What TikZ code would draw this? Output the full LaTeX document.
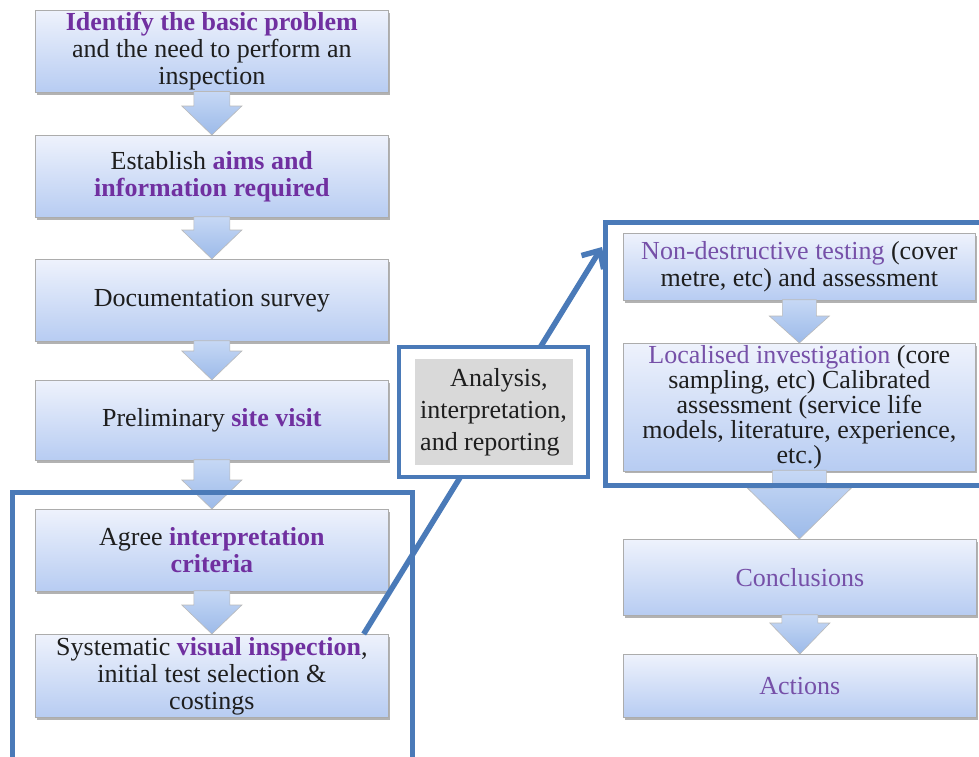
\documentclass[tikz,border=0pt]{standalone}
\usepackage{fontspec}
\setmainfont{Liberation Serif}
\usetikzlibrary{arrows.meta,calc,shadows}

\definecolor{frameblue}{HTML}{4A7AB8}
\definecolor{boldpurple}{HTML}{7030A0}
\definecolor{softpurple}{HTML}{7650A8}
\definecolor{boxtop}{HTML}{EEF2FC}
\definecolor{boxbot}{HTML}{B7CCF2}
\definecolor{arrtop}{HTML}{C6D8F5}
\definecolor{arrbot}{HTML}{9CBAE9}
\definecolor{inktext}{HTML}{1E1E1E}
\definecolor{panelgray}{HTML}{D9D9D9}

% emphasised words
\newcommand\hl[1]{\textbf{\color{boldpurple}#1}}
\newcommand\hs[1]{{\color{softpurple}#1}}

% block arrow from the bottom of one box to the top of the next
% #1 from, #2 to, #3 shaft half width, #4 head half width, #5 head length
\newcommand\blockarrow[5]{%
  \path[blockarr] let \p1=(#1.south), \p2=(#2.north) in
    (\x1-#3pt,\y1+1pt) -- (\x1+#3pt,\y1+1pt) -- (\x1+#3pt,\y2+#5pt)
    -- (\x1+#4pt,\y2+#5pt) -- (\x1,\y2) -- (\x1-#4pt,\y2+#5pt)
    -- (\x1-#3pt,\y2+#5pt) -- cycle;}

\tikzset{
  box/.style={draw=gray!65, line width=0.7pt, top color=boxtop, bottom color=boxbot,
    drop shadow={shadow xshift=2pt, shadow yshift=-2.5pt, fill=black, opacity=0.3},
    font=\fontsize{26}{27}\selectfont, text=inktext, align=center, inner sep=2pt,
    anchor=north west},
  blockarr/.style={draw=gray!55, line width=0.6pt, top color=arrtop, bottom color=arrbot},
  groupframe/.style={draw=frameblue, line width=5pt},
  conn/.style={draw=frameblue, line width=5.5pt, -{Straight Barb[length=14pt,width=26pt]}},
}

\begin{document}
\begin{tikzpicture}[x=1pt, y=-1pt]
\clip (0,0) rectangle (979,756);
\fill[white] (0,0) rectangle (979,756);

% left column
\node[box, minimum width=353pt, minimum height=81pt] (b1) at (35,10)
  {\hl{Identify the basic problem}\\ and the need to perform an\\ inspection};
\node[box, minimum width=353pt, minimum height=82pt] (b2) at (35,135)
  {Establish \hl{aims and}\\ \hl{information required}};
\node[box, minimum width=353pt, minimum height=82pt] (b3) at (35,259)
  {Documentation survey};
\node[box, minimum width=353pt, minimum height=80pt] (b4) at (35,380)
  {Preliminary \hl{site visit}};
\node[box, minimum width=353pt, minimum height=82pt] (b5) at (35,509)
  {Agree \hl{interpretation}\\ \hl{criteria}};
\node[box, minimum width=353pt, minimum height=83pt] (b6) at (35,634)
  {Systematic \hl{visual inspection},\\ initial test selection \&\\ costings};

% right column
\node[box, minimum width=352pt, minimum height=67pt] (r1) at (623,233)
  {\hs{Non-destructive testing} (cover\\ metre, etc) and assessment};
\node[box, minimum width=352pt, minimum height=125pt, font=\fontsize{26}{25}\selectfont] (r2) at (623,343)
  {\hs{Localised investigation} (core\\ sampling, etc) Calibrated\\ assessment (service life\\ models, literature, experience,\\ etc.)};
\node[box, minimum width=353pt, minimum height=76pt] (c1) at (623,539)
  {\hs{Conclusions}};
\node[box, minimum width=353pt, minimum height=63pt] (a1) at (623,654)
  {\hs{Actions}};

% flow arrows
\blockarrow{b1}{b2}{18}{30}{29}
\blockarrow{b2}{b3}{18}{30}{29}
\blockarrow{b3}{b4}{18}{30}{29}
\blockarrow{b4}{b5}{18}{30}{29}
\blockarrow{b5}{b6}{18}{30}{29}
\blockarrow{r1}{r2}{17}{30}{27}
\blockarrow{r2}{c1}{27}{52}{51}
\blockarrow{c1}{a1}{18}{30}{31}

% grouping frames
\draw[groupframe] (12,492) rectangle (412,790);
\draw[groupframe] (605,222) rectangle (1000,485);

% link from the inspection stage to the testing stage
\coordinate (vstart) at ($(b6.north east)+(-25,0)$);
\coordinate (ndt) at (602,247);
\draw[conn] (vstart) -- (ndt);

% analysis panel
\node[draw=frameblue, line width=4pt, fill=white, minimum width=189pt, minimum height=130pt,
  anchor=north west, inner sep=0pt] (anaframe) at (397,345) {};
\node[fill=panelgray, minimum width=158pt, minimum height=106pt, inner sep=0pt,
  align=left, text=inktext, font=\fontsize{26}{32}\selectfont] (ana) at (anaframe.center)
  {\hspace*{30pt}Analysis,\\ interpretation,\\ and reporting};
\end{tikzpicture}
\end{document}
